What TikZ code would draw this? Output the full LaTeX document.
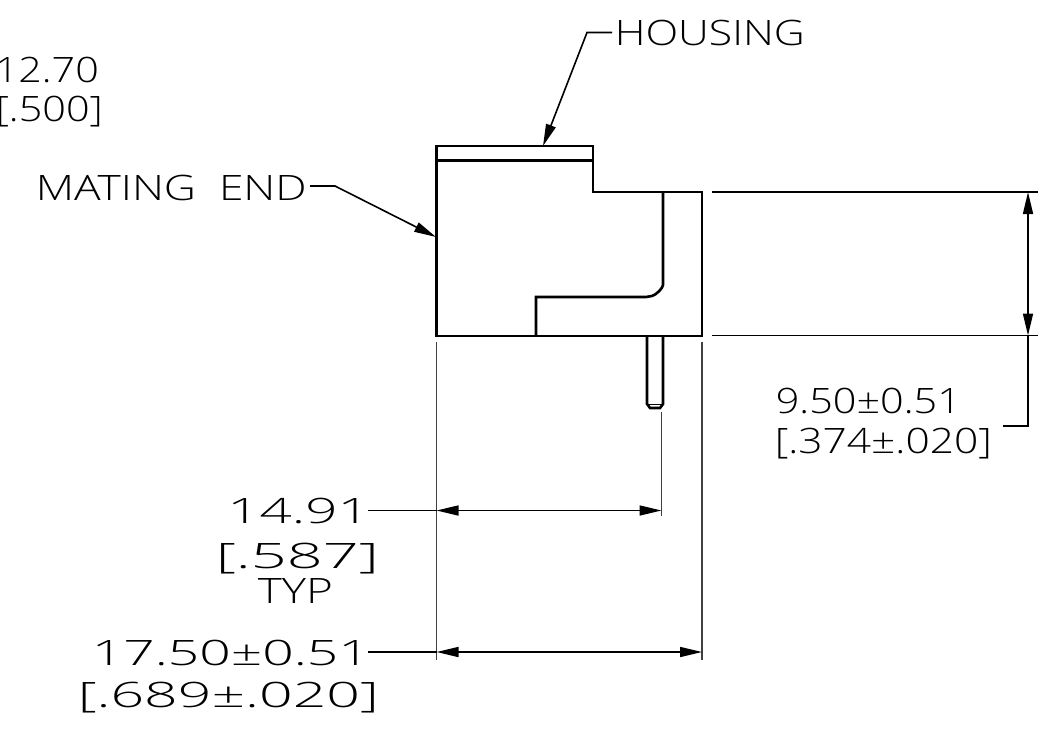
\documentclass[tikz,border=0pt]{standalone}
\usepackage{graphicx}
\usepackage{fontspec}
\setmainfont{Open Sans Light}
\usetikzlibrary{arrows.meta}
\newcommand{\drawthick}{\draw[line width=2.6pt]}
\newcommand{\drawdim}{\draw[line width=1.6pt]}
\newcommand{\cadlabel}[5]{\node[anchor=base east,inner sep=0pt,font=\fontsize{35}{35}\selectfont] (#1) at (#2,#3) {\resizebox{#4pt}{\height}{#5}};}
\tikzset{
  dimarrow/.style={-{Triangle[length=22pt,width=10pt]}},
  dimarrows/.style={{Triangle[length=22pt,width=10pt]}-{Triangle[length=22pt,width=10pt]}},
  extline/.style={line width=1.4pt,black!75},
}
\begin{document}
\begin{tikzpicture}[x=1pt,y=-1pt]
\useasboundingbox (0,0) rectangle (1057,732);
% housing
    \drawthick (436.5,146)--++(156.5,0)--++(0,46)--++(109,0)--++(0,144)--++(-265.5,0)--cycle;
    \drawthick (436.5,160.5)--++(156.5,0);
    \drawthick (663,192)--++(0,93) .. controls (663,288) and (656,295) .. (652,296) -- (646,297)--(536,297)--++(0,39);
% pin
    \drawthick (647,336)--++(0,68)--++(3,4)--++(10,0)--++(3,-4)--++(0,-68);
    \draw[line width=1pt] (648,404)--++(14,0);
% labels
\cadlabel{mating}{307}{200}{271}{MATING\ \ END}
\cadlabel{housing}{805}{45}{190}{HOUSING}
\cadlabel{metrica}{99}{82}{104}{12.70}
\cadlabel{incha}{103}{121}{107}{[.500]}
\cadlabel{metricb}{370}{523}{142.5}{14.91}
\cadlabel{inchb}{379}{568}{163}{[.587]}
\cadlabel{typ}{333}{603}{75}{TYP}
\cadlabel{metricc}{370}{665}{278}{17.50±0.51}
\cadlabel{inchc}{379}{707}{301}{[.689±.020]}
\cadlabel{metricd}{961}{413}{185}{9.50±0.51}
\cadlabel{inchd}{992}{453}{217}{[.374±.020]}
% leaders
\coordinate (housingelbow) at (587,32.5);
\coordinate (housingstart) at (612,32.5);
\coordinate (housingtip) at (543,146);
\coordinate (matingstart) at (310,186);
\coordinate (matingelbow) at (335,186);
\coordinate (matingtip) at (436,237);
\drawdim[dimarrow] (housingstart)--(housingelbow)--(housingtip);
\drawdim[dimarrow] (matingstart)--(matingelbow)--(matingtip);
% extension lines
\draw[extline] (436.5,342)--(436.5,660);
\draw[extline] (702,342)--(702,660);
\draw[extline] (661.5,412)--(661.5,516);
\drawdim (712,192)--(1038,192);
\drawdim (712,335.5)--(1038,335.5);
% dimensions
\coordinate (widtha) at (436.5,510.5);
\coordinate (widthb) at (661.5,510.5);
\coordinate (widthc) at (436.5,652);
\coordinate (widthd) at (702,652);
\drawdim[dimarrows] (widtha)--(widthb);
\drawdim (368,510.5)--(widtha);
\drawdim[dimarrows] (widthc)--(widthd);
\drawdim (368,652)--(widthc);
\coordinate (heighta) at (1028,192);
\coordinate (heightb) at (1028,335.5);
\coordinate (elbow) at (1028,426);
\drawdim[dimarrows] (heighta)--(heightb);
\drawdim (heightb)--(elbow)--(1003,426);
\end{tikzpicture}
\end{document}
